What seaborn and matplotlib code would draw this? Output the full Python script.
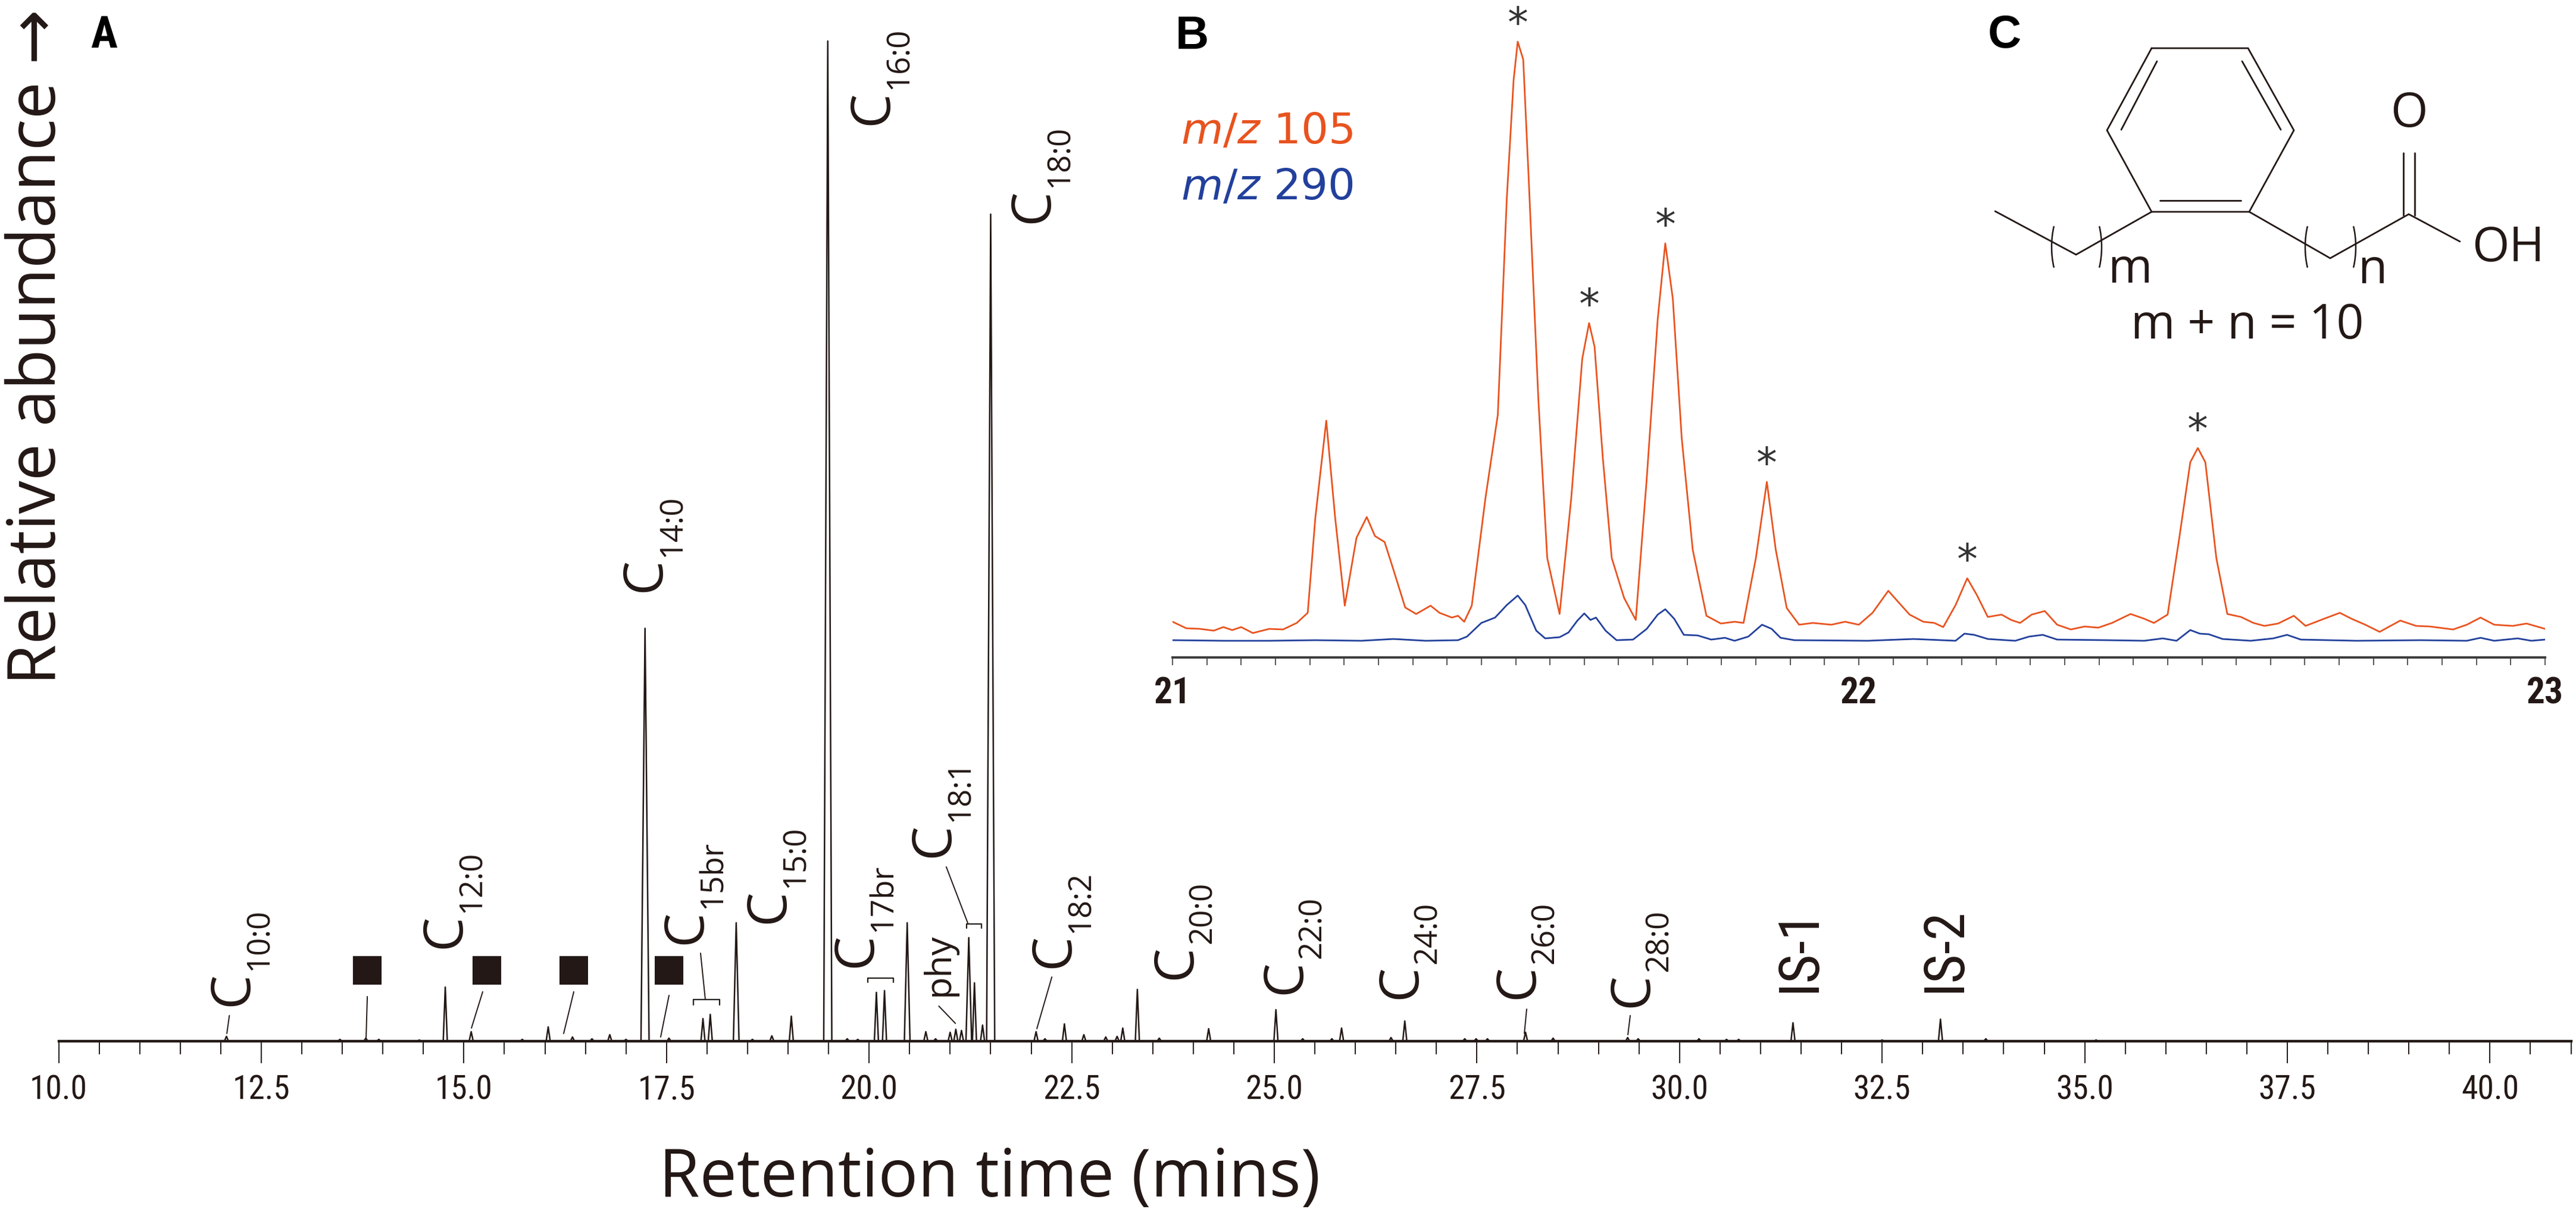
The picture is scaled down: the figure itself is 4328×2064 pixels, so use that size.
import pandas as pd
import matplotlib.pyplot as plt
import seaborn as sns
from matplotlib import font_manager
from matplotlib.patches import Arc
from matplotlib.ticker import MultipleLocator, FormatStrFormatter

# Constants
INK = "#231815"
ORANGE = "#E8531F"
BLUE = "#22409C"
OUT_FILE = "out.png"

# Main chromatogram (TIC): peak retention times (min), heights (% of C16:0) and half base widths (min)
peak_rt = [12.07, 13.47, 13.79, 13.95, 14.45, 14.77, 15.09, 15.72, 16.04, 16.34,
           16.58, 16.80, 17.00, 17.235, 17.53, 17.95, 18.04, 18.36, 18.56, 18.80,
           19.04, 19.49, 19.73, 19.86, 20.09, 20.19, 20.47, 20.70, 20.82, 21.00,
           21.07, 21.14, 21.23, 21.30, 21.40, 21.50, 22.06, 22.17, 22.41, 22.65,
           22.92, 23.06, 23.13, 23.31, 23.58, 24.19, 25.02, 25.35, 25.71, 25.83,
           26.44, 26.61, 27.35, 27.49, 27.63, 28.10, 28.44, 29.36, 29.49, 30.24,
           30.58, 30.73, 31.40, 32.50, 33.22, 33.78, 35.14]
peak_height = [0.48, 0.18, 0.30, 0.18, 0.12, 5.41, 0.95, 0.18, 1.43, 0.42,
               0.24, 0.65, 0.18, 41.28, 0.30, 2.26, 2.68, 11.84, 0.18, 0.54,
               2.50, 100.0, 0.24, 0.18, 4.88, 5.06, 11.84, 0.95, 0.24, 0.89,
               1.19, 1.07, 10.35, 5.83, 1.61, 82.69, 0.95, 0.24, 1.73, 0.65,
               0.42, 0.48, 1.31, 5.18, 0.30, 1.25, 3.15, 0.24, 0.24, 1.31,
               0.36, 2.02, 0.24, 0.24, 0.24, 0.89, 0.30, 0.36, 0.24, 0.24,
               0.18, 0.18, 1.84, 0.12, 2.20, 0.24, 0.12]
peak_halfwidth = [0.05 if h > 40 else (0.035 if h > 10 else 0.025) for h in peak_height]

# Peak labels: (text, retention time, level)
fa_labels = [("10:0", 12.155, 3.5), ("12:0", 14.775, 9.3), ("14:0", 17.245, 44.9),
             ("15br", 17.745, 9.7), ("15:0", 18.772, 11.8), ("16:0", 20.05, 91.6),
             ("17br", 19.852, 7.4), ("18:1", 20.80, 18.4), ("18:0", 22.027, 81.8),
             ("18:2", 22.289, 7.3), ("20:0", 23.79, 6.2), ("22:0", 25.141, 4.7),
             ("24:0", 26.566, 4.2), ("26:0", 28.013, 4.2), ("28:0", 29.427, 3.4)]
is_labels = [("IS-1", 31.478, 4.9), ("IS-2", 33.276, 4.9)]
square_rt = [13.808, 15.284, 16.356, 17.531]

# Inset B: extracted ion chromatograms
mz105_rt = [21.000, 21.020, 21.040, 21.060, 21.074, 21.087, 21.100, 21.117, 21.141, 21.161,
            21.181, 21.197, 21.208, 21.224, 21.237, 21.251, 21.268, 21.283, 21.295, 21.309,
            21.322, 21.339, 21.355, 21.376, 21.389, 21.407, 21.416, 21.425, 21.436, 21.456,
            21.474, 21.487, 21.497, 21.503, 21.511, 21.519, 21.533, 21.546, 21.564, 21.581,
            21.597, 21.607, 21.615, 21.627, 21.640, 21.658, 21.675, 21.691, 21.707, 21.718,
            21.729, 21.742, 21.758, 21.778, 21.799, 21.819, 21.832, 21.850, 21.866, 21.879,
            21.895, 21.913, 21.933, 21.960, 21.980, 22.000, 22.020, 22.043, 22.060, 22.074,
            22.094, 22.110, 22.123, 22.141, 22.158, 22.172, 22.188, 22.208, 22.222, 22.235,
            22.252, 22.271, 22.289, 22.309, 22.329, 22.349, 22.369, 22.396, 22.416, 22.430,
            22.450, 22.467, 22.483, 22.494, 22.505, 22.521, 22.537, 22.557, 22.575, 22.591,
            22.611, 22.634, 22.651, 22.678, 22.701, 22.718, 22.738, 22.759, 22.789, 22.812,
            22.832, 22.866, 22.886, 22.906, 22.926, 22.953, 22.973, 23.000]
mz105_int = [60, 49, 48, 45, 51, 46, 51, 41, 48, 47,
             58, 75, 234, 398, 234, 87, 201, 236, 204, 194,
             147, 84, 73, 87, 75, 67, 70, 60, 87, 268,
             408, 770, 971, 1035, 1005, 804, 435, 167, 73, 268,
             502, 562, 522, 335, 167, 100, 63, 301, 569, 696,
             603, 368, 181, 70, 57, 60, 58, 167, 295, 181,
             83, 55, 58, 55, 60, 55, 75, 112, 90, 72,
             60, 58, 51, 88, 133, 105, 68, 72, 63, 58,
             72, 78, 55, 47, 52, 50, 58, 73, 65, 58,
             72, 201, 328, 352, 328, 167, 73, 68, 58, 53,
             57, 70, 53, 65, 75, 65, 55, 43, 62, 53,
             52, 47, 55, 67, 55, 53, 57, 48]
mz290_rt = [21.000, 21.074, 21.141, 21.208, 21.275, 21.322, 21.369, 21.416, 21.429, 21.450,
            21.470, 21.487, 21.503, 21.514, 21.530, 21.543, 21.564, 21.577, 21.590, 21.600,
            21.609, 21.617, 21.631, 21.647, 21.671, 21.691, 21.707, 21.718, 21.731, 21.745,
            21.765, 21.785, 21.805, 21.819, 21.839, 21.859, 21.873, 21.886, 21.906, 22.013,
            22.080, 22.141, 22.154, 22.168, 22.188, 22.228, 22.248, 22.268, 22.289, 22.362,
            22.416, 22.443, 22.463, 22.483, 22.497, 22.510, 22.530, 22.571, 22.604, 22.624,
            22.644, 22.685, 22.725, 22.819, 22.886, 22.906, 22.926, 22.960, 22.980, 23.000]
mz290_int = [29, 28, 28, 29, 28, 31, 28, 29, 35, 58,
             67, 88, 104, 88, 45, 32, 34, 42, 62, 74,
             63, 67, 45, 29, 30, 48, 72, 81, 65, 38,
             37, 30, 33, 28, 35, 55, 48, 33, 29, 28,
             31, 28, 40, 38, 31, 28, 35, 38, 30, 29,
             28, 32, 28, 46, 40, 39, 31, 28, 32, 38,
             30, 29, 28, 29, 28, 33, 28, 32, 28, 30]
starred_rt = [21.503, 21.607, 21.718, 21.866, 22.158, 22.494]


def build_trace(rts, heights, widths):
    """Turn the peak table into a chromatogram polyline"""
    rows = [(10.0, 0.0)]
    for rt, h, w in zip(rts, heights, widths):
        rows += [(rt - w, 0.0), (rt, h), (rt + w, 0.0)]
    rows.append((41.0, 0.0))
    return pd.DataFrame(rows, columns=["rt", "abundance"])


def pick_narrow_font():
    """Use a condensed sans for the tick numbers if one is installed"""
    names = {f.name for f in font_manager.fontManager.ttflist}
    for fam in ["Liberation Sans Narrow", "Roboto Condensed", "Open Sans Condensed"]:
        if fam in names:
            return fam
    return "Liberation Sans"


def fa_label(ax, x, y, sub):
    ax.text(x, y, "C", rotation=90, ha="center", va="bottom", fontsize=33, color=INK)
    ax.annotate(sub, xy=(x, y), xytext=(16, 21.5), textcoords="offset points",
                rotation=90, ha="center", va="bottom", fontsize=19, color=INK)


def bracket(ax, t0, t1, ytop, ybot):
    ax.plot([t0, t0, t1, t1], [ybot, ytop, ytop, ybot], color=INK, lw=0.8)


if __name__ == "__main__":
    sns.set_theme(style="white")
    narrow = pick_narrow_font()
    plt.rcParams["font.family"] = ["Open Sans", "DejaVu Sans"]

    fig = plt.figure(figsize=(21.64, 10.32), dpi=200)
    fig.patch.set_facecolor("white")

    # Panel A: total ion chromatogram
    ax = fig.add_axes([0.022782, 0.15213, 0.97527, 0.82364])
    trace = build_trace(peak_rt, peak_height, peak_halfwidth)
    sns.lineplot(data=trace, x="rt", y="abundance", ax=ax, estimator=None, sort=False,
                 color=INK, lw=0.9)
    ax.set_xlim(10, 41)
    ax.set_ylim(0, 101.13)
    ax.set_facecolor("none")
    for side in ["top", "right", "left"]:
        ax.spines[side].set_visible(False)
    ax.spines["bottom"].set_color(INK)
    ax.spines["bottom"].set_linewidth(1.6)
    ax.set_yticks([])
    ax.set_xlabel("")
    ax.set_ylabel("")
    ax.xaxis.set_major_locator(MultipleLocator(2.5))
    ax.xaxis.set_minor_locator(MultipleLocator(0.5))
    ax.xaxis.set_major_formatter(FormatStrFormatter("%.1f"))
    ax.tick_params(axis="x", which="major", bottom=True, direction="out", length=13.3,
                   width=0.7, color=INK, pad=6.8, labelsize=20, labelcolor=INK)
    ax.tick_params(axis="x", which="minor", bottom=True, direction="out", length=8,
                   width=0.7, color=INK)
    for lab in ax.get_xticklabels():
        lab.set_family(narrow)

    for sub, x, y in fa_labels:
        fa_label(ax, x, y, sub)
    for txt, x, y in is_labels:
        ax.text(x, y, txt, rotation=90, ha="center", va="bottom", fontsize=34,
                family=narrow, color=INK)
    ax.text(20.86, 4.52, "phy", rotation=90, ha="center", va="bottom", fontsize=22, color=INK)

    sns.scatterplot(x=square_rt, y=[7.1] * len(square_rt), ax=ax, marker="s",
                    s=17.3 ** 2, color=INK, linewidth=0)

    pointers = [((12.106, 2.56), (12.075, 0.77)), ((13.808, 4.46), (13.793, 0.30)),
                ((15.232, 4.94), (15.093, 1.31)), ((16.356, 4.94), (16.231, 0.77)),
                ((17.531, 4.58), (17.428, 0.42)), ((20.86, 3.51), (21.065, 1.78)),
                ((22.255, 6.42), (22.07, 1.25)), ((28.114, 3.21), (28.085, 0.77)),
                ((29.392, 2.56), (29.363, 0.65)), ((17.979, 4.16), (17.92, 8.8)),
                ((21.218, 11.8), (20.952, 17.43))]
    for (x0, y0), (x1, y1) in pointers:
        ax.plot([x0, x1], [y0, y1], color=INK, lw=0.7)
    bracket(ax, 17.832, 18.155, 4.16, 3.63)
    bracket(ax, 19.984, 20.30, 6.31, 5.89)
    bracket(ax, 21.203, 21.387, 11.72, 11.30)

    fig.text(0.0148, 0.7175, "Relative abundance \u2192", rotation=90, ha="center",
             va="center", fontsize=40, color=INK)
    fig.text(0.3842, 0.0397, "Retention time (mins)", ha="center", va="center",
             fontsize=40, color=INK)

    # Panel B: m/z 105 and m/z 290 between 21 and 23 min
    ax_in = fig.add_axes([0.45518, 0.46463, 0.53281, 0.52568])
    ax_in.set_facecolor("none")
    df105 = pd.DataFrame({"rt": mz105_rt, "intensity": mz105_int})
    df290 = pd.DataFrame({"rt": mz290_rt, "intensity": mz290_int})
    sns.lineplot(data=df105, x="rt", y="intensity", ax=ax_in, estimator=None, sort=False,
                 color=ORANGE, lw=1.0)
    sns.lineplot(data=df290, x="rt", y="intensity", ax=ax_in, estimator=None, sort=False,
                 color=BLUE, lw=1.0)
    ax_in.set_xlim(21, 23)
    ax_in.set_ylim(0, 1085)
    for side in ["top", "right", "left"]:
        ax_in.spines[side].set_visible(False)
    ax_in.spines["bottom"].set_color("#3a3a3a")
    ax_in.spines["bottom"].set_linewidth(1.4)
    ax_in.set_yticks([])
    ax_in.set_xlabel("")
    ax_in.set_ylabel("")
    ax_in.xaxis.set_major_locator(MultipleLocator(1))
    ax_in.xaxis.set_minor_locator(MultipleLocator(0.05))
    ax_in.xaxis.set_major_formatter(FormatStrFormatter("%d"))
    ax_in.tick_params(axis="x", which="both", bottom=True, direction="out", length=4.7,
                      width=0.6, color="#3a3a3a", pad=6.5, labelsize=22, labelcolor=INK)
    for lab in ax_in.get_xticklabels():
        lab.set_family(narrow)
        lab.set_fontweight("bold")
    for rt in starred_rt:
        i = mz105_rt.index(rt)
        ax_in.annotate("*", xy=(rt, mz105_int[i]), xytext=(0, 10), textcoords="offset points",
                       ha="center", va="center", fontsize=25, family="DejaVu Sans", color="#333333")
    fig.text(0.4584, 0.8832, r"$\mathit{m/z}$ 105", ha="left", va="baseline", fontsize=26,
             family="DejaVu Sans", color=ORANGE)
    fig.text(0.4584, 0.8377, r"$\mathit{m/z}$ 290", ha="left", va="baseline", fontsize=26,
             family="DejaVu Sans", color=BLUE)

    # Panel C: structure drawn on a pixel-space overlay
    ov = fig.add_axes([0, 0, 1, 1])
    ov.set_xlim(0, 4328)
    ov.set_ylim(2064, 0)
    ov.axis("off")
    ov.patch.set_alpha(0)
    bonds = [[(3615, 81), (3777, 81), (3854, 219), (3779, 356), (3615, 356), (3540, 219), (3615, 81)],
             [(3624, 103), (3564, 218)], [(3767, 103), (3832, 218)], [(3629, 337), (3765, 337)],
             [(3352, 355), (3488, 428), (3615, 356)],
             [(3779, 356), (3915, 434), (4047, 360), (4133, 406)],
             [(4038, 257), (4038, 362)], [(4057, 257), (4057, 362)]]
    for b in bonds:
        ov.plot([p[0] for p in b], [p[1] for p in b], color=INK, lw=1.0, solid_joinstyle="miter")
    for cx, t1, t2 in [(3471, 120, 240), (3507, -60, 60), (3897, 120, 240), (3934, -60, 60)]:
        ov.add_patch(Arc((cx, 415), 48, 127, theta1=t1, theta2=t2, color=INK, lw=0.9))
    ov.text(3578, 454, "m", ha="center", va="center", fontsize=29, color=INK)
    ov.text(3986, 455, "n", ha="center", va="center", fontsize=29, color=INK)
    ov.text(4047, 192, "O", ha="center", va="center", fontsize=29, color=INK)
    ov.text(4214, 418, "OH", ha="center", va="center", fontsize=29, color=INK)
    ov.text(3776, 548, "m + n = 10", ha="center", va="center", fontsize=29, color=INK)

    # Panel letters
    fig.text(0.03512, 0.96124, "A", ha="left", va="baseline", fontsize=27,
             fontweight="bold", family=narrow, color="black")
    fig.text(0.45633, 0.96027, "B", ha="left", va="baseline", fontsize=28,
             fontweight="bold", family="Liberation Sans", color="black")
    fig.text(0.77172, 0.96124, "C", ha="left", va="baseline", fontsize=28,
             fontweight="bold", family="Liberation Sans", color="black")

    fig.savefig(OUT_FILE, dpi=200, facecolor="white")
